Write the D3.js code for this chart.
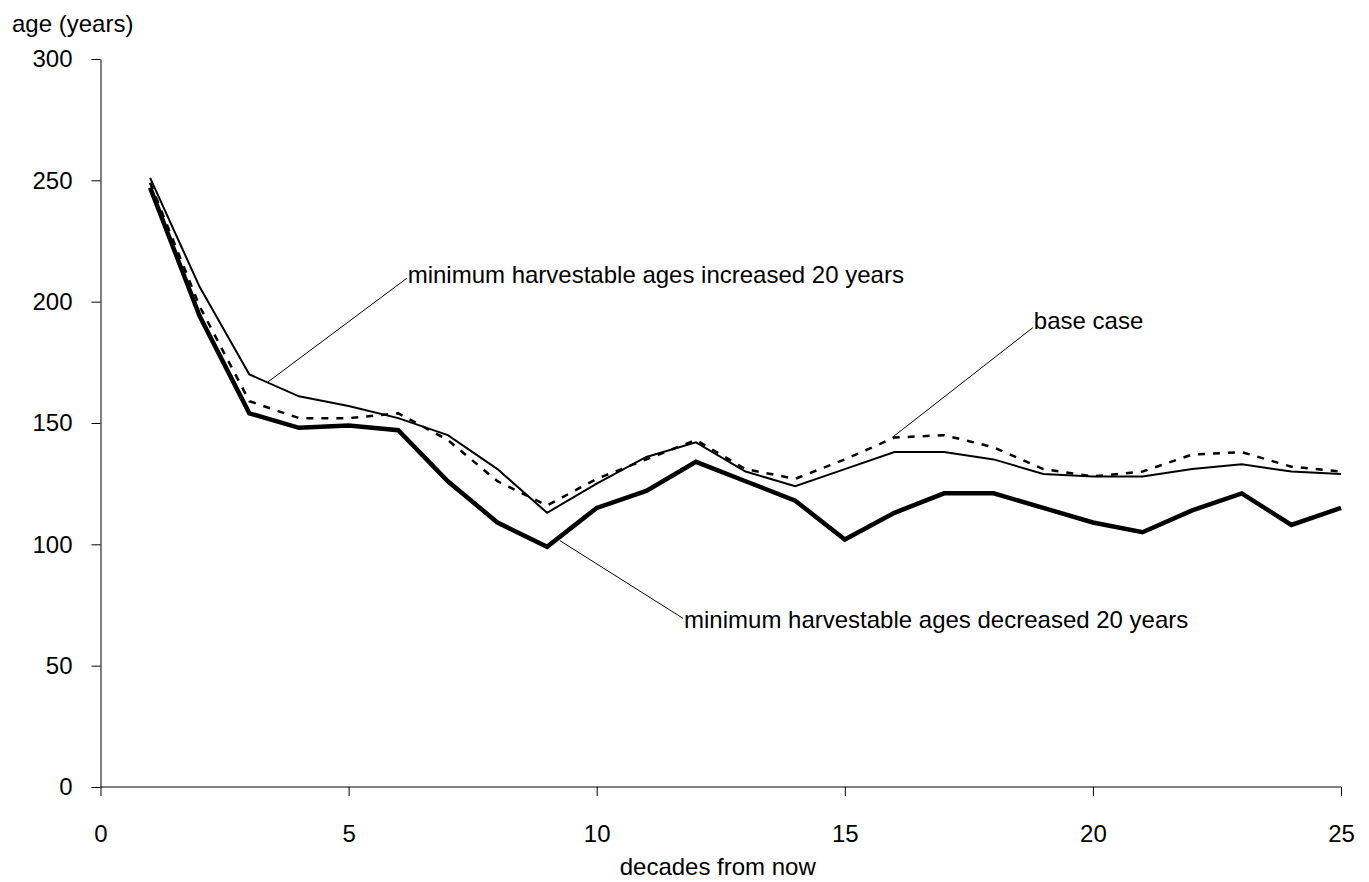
<!DOCTYPE html>
<html>
<head>
<meta charset="utf-8">
<script src="https://cdn.jsdelivr.net/npm/d3@7/dist/d3.min.js"></script>
<style>
    body { margin: 0; background: #fff; }
    text { font-family: "Liberation Sans", Arial, sans-serif; fill: #000; }
</style>
</head>
<body>
<div id="chart"></div>
<script>
// decades 1..25
var decades = d3.range(1, 26);

var increased = [251, 206, 170, 161, 157, 152, 145, 131, 113, 125, 136, 142, 130,
    124, 131, 138, 138, 135, 129, 128, 128, 131, 133, 130, 129];
var baseCase = [249, 198, 159, 152, 152, 154, 143, 126, 116, 127, 135, 143, 131,
    127, 135, 144, 145, 140, 131, 128, 130, 137, 138, 132, 130];
var decreased = [247, 194, 154, 148, 149, 147, 126, 109, 99, 115, 122, 134, 126,
    118, 102, 113, 121, 121, 115, 109, 105, 114, 121, 108, 115];

var xTicks = [0, 5, 10, 15, 20, 25];
var yTicks = [0, 50, 100, 150, 200, 250, 300];

// label text, where the text sits, where the leader line ends on the curve (data coords)
var labelTexts = ["minimum harvestable ages increased 20 years", "base case",
    "minimum harvestable ages decreased 20 years"];
var labelAt = [[6.17, 209.6], [18.79, 189.3], [11.74, 69.5]];
var leaderTo = [[3.38, 167], [15.96, 144.1], [9.26, 101.5]];
var labelDy = [5, 1, 10];

var width = 1369, height = 882;
var fontSize = "24px";

var svg = d3.select("#chart")
    .append("svg")
    .attr("width", width)
    .attr("height", height);

var x = d3.scaleLinear().domain([0, 25]).range([100.5, 1341]);
var y = d3.scaleLinear().domain([0, 300]).range([787, 59]);

// axes
var xAxis = svg.append("g")
    .attr("transform", "translate(0," + y(0) + ")")
    .call(d3.axisBottom(x).tickValues(xTicks).tickSize(9).tickSizeOuter(0).tickPadding(29));
var yAxis = svg.append("g")
    .attr("transform", "translate(" + x(0) + ",0)")
    .call(d3.axisLeft(y).tickValues(yTicks).tickSize(9).tickSizeOuter(0).tickPadding(19));

[xAxis, yAxis].forEach(function (g) {
    g.selectAll("path, line").attr("stroke", "#000").attr("stroke-width", 1);
    g.selectAll("text")
        .style("font-size", fontSize)
        .style("font-family", "'Liberation Sans', Arial, sans-serif")
        .attr("fill", "#000");
});
// axis line reaches the right end of the plot
xAxis.select(".domain").attr("d", "M" + x(0) + ",0H" + x(25));

svg.append("text")
    .attr("x", 12)
    .attr("y", 32)
    .style("font-size", fontSize)
    .text("age (years)");

svg.append("text")
    .attr("x", (x(0) + x(25)) / 2 - 3)
    .attr("y", 875)
    .attr("text-anchor", "middle")
    .style("font-size", fontSize)
    .text("decades from now");

var line = d3.line()
    .x(function (d) { return x(d[0]); })
    .y(function (d) { return y(d[1]); });

function pairs(vals) {
    return decades.map(function (d, i) { return [d, vals[i]]; });
}

svg.append("path")
    .datum(pairs(baseCase))
    .attr("d", line)
    .attr("fill", "none")
    .attr("stroke", "#000")
    .attr("stroke-width", 2.5)
    .attr("stroke-dasharray", "7,8");

svg.append("path")
    .datum(pairs(increased))
    .attr("d", line)
    .attr("fill", "none")
    .attr("stroke", "#000")
    .attr("stroke-width", 2);

svg.append("path")
    .datum(pairs(decreased))
    .attr("d", line)
    .attr("fill", "none")
    .attr("stroke", "#000")
    .attr("stroke-width", 4.5)
    .attr("stroke-linejoin", "miter");

// labels with leader lines
labelTexts.forEach(function (t, i) {
    svg.append("line")
        .attr("x1", x(labelAt[i][0]))
        .attr("y1", y(labelAt[i][1]))
        .attr("x2", x(leaderTo[i][0]))
        .attr("y2", y(leaderTo[i][1]))
        .attr("stroke", "#000")
        .attr("stroke-width", 1);

    svg.append("text")
        .attr("x", x(labelAt[i][0]) + 1)
        .attr("y", y(labelAt[i][1]) + labelDy[i])
        .style("font-size", fontSize)
        .text(t);
});
</script>
</body>
</html>
